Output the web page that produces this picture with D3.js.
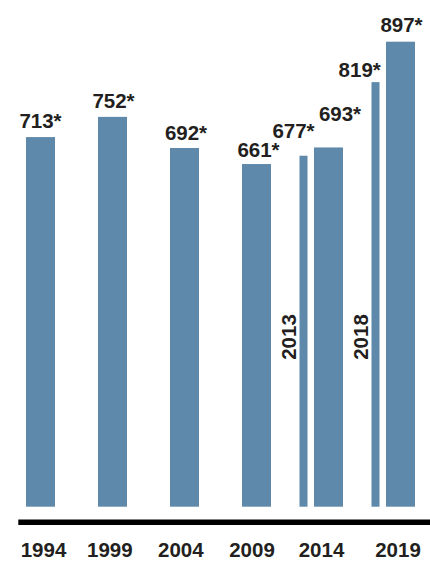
<!DOCTYPE html>
<html>
<head>
<meta charset="utf-8">
<script src="https://cdn.jsdelivr.net/npm/d3@7"></script>
<style>
  html, body { margin: 0; padding: 0; background: #fff; }
  svg { display: block; }
  text { font-family: "Liberation Sans", Arial, sans-serif; font-weight: 700; fill: #231f20; }
</style>
</head>
<body>
<svg id="chart" width="430" height="561"></svg>
<script>
// Survey years shown on the axis, and their totals
const axisYears = ["1994", "1999", "2004", "2009", "2014", "2019"];
const axisValues = [713, 752, 692, 661, 693, 897];

// Interim surveys, drawn as narrow bars just before the following axis year
const interimYears = ["2013", "2018"];
const interimValues = [677, 819];
const interimNext = ["2014", "2019"];

const valueSuffix = "*";

const W = 430, H = 561;
const barColor = "#5e89aa";

const svg = d3.select("#chart");

const x = d3.scaleBand()
  .domain(axisYears)
  .range([4.5, 436.5])
  .paddingInner(43 / 72)
  .paddingOuter(43 / 144);

const y = d3.scaleLinear()
  .domain([0, 897])
  .range([506.7, 41.7]);

const thinW = 8;
const thinGap = 6.5;

const main = axisYears.map((yr, i) => ({ year: yr, value: axisValues[i] }));
const interim = interimYears.map((yr, i) => ({ year: yr, value: interimValues[i], next: interimNext[i] }));

// main bars
svg.append("g").selectAll("rect")
  .data(main)
  .join("rect")
  .attr("x", d => x(d.year))
  .attr("y", d => y(d.value))
  .attr("width", x.bandwidth())
  .attr("height", d => y(0) - y(d.value))
  .attr("fill", barColor);

// narrow interim bars
const thinX = d => x(d.next) - thinGap - thinW;
svg.append("g").selectAll("rect")
  .data(interim)
  .join("rect")
  .attr("x", thinX)
  .attr("y", d => y(d.value))
  .attr("width", thinW)
  .attr("height", d => y(0) - y(d.value))
  .attr("fill", barColor);

// vertical year labels beside the interim bars
svg.append("g").selectAll("text")
  .data(interim)
  .join("text")
  .attr("transform", d => `translate(${thinX(d) - 3.2},337) rotate(-90)`)
  .attr("text-anchor", "middle")
  .attr("font-size", 20.5)
  .text(d => d.year);

// value labels; a few are nudged apart where bars sit close together
const nudge = {
  "1994": [0, -9], "1999": [1, -9.3], "2004": [1.5, -8], "2009": [2, -6.7],
  "2013": [-10, -17.4], "2014": [11.5, -26.3], "2018": [-15.8, -5.3], "2019": [1, -10.2]
};
const centerOf = d => d.next ? thinX(d) + thinW / 2 : x(d.year) + x.bandwidth() / 2;
svg.append("g").selectAll("text")
  .data(main.concat(interim))
  .join("text")
  .attr("x", d => centerOf(d) + nudge[d.year][0])
  .attr("y", d => y(d.value) + nudge[d.year][1])
  .attr("text-anchor", "middle")
  .attr("font-size", 20.5)
  .text(d => d.value + valueSuffix);

// baseline rule
svg.append("line")
  .attr("x1", 18.3).attr("x2", W)
  .attr("y1", 522.2).attr("y2", 522.2)
  .attr("stroke", "#000")
  .attr("stroke-width", 5.6);

// bottom axis with year labels
const tickNudge = { "1994": 3, "1999": -2.7, "2004": -3.7, "2009": -4.5, "2014": -7, "2019": -2.5 };
const axis = svg.append("g")
  .attr("transform", "translate(0,557)")
  .call(d3.axisBottom(x).tickSize(0).tickPadding(0));
axis.select(".domain").remove();
axis.selectAll(".tick text")
  .attr("dy", 0)
  .attr("dx", d => tickNudge[d])
  .attr("font-size", 20.5)
  .attr("font-family", null)
  .attr("fill", null)
  .attr("font-weight", 700);
</script>
</body>
</html>
